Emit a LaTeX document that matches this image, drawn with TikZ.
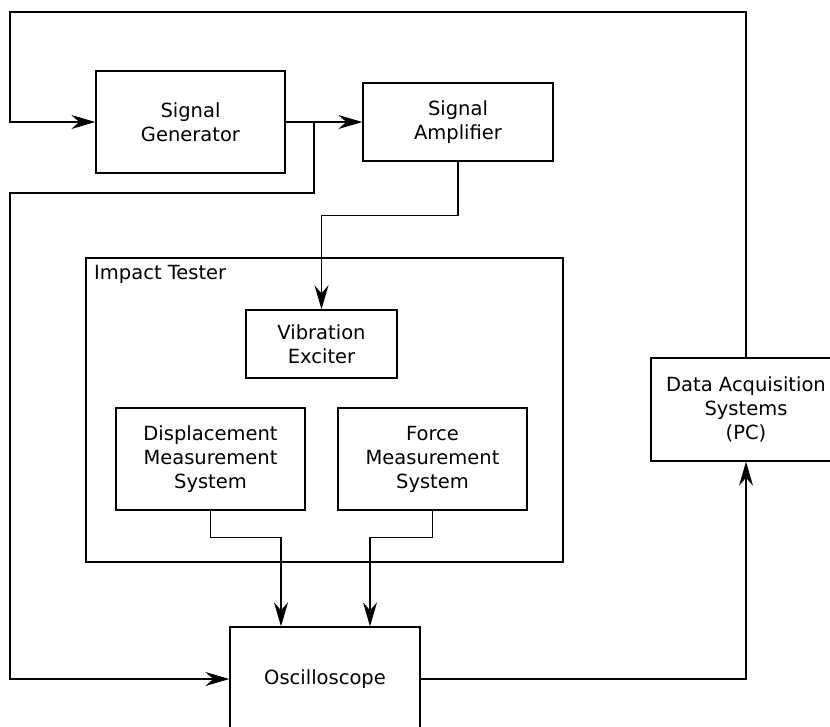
\documentclass[tikz,border=0pt]{standalone}
\usepackage{fontspec}
\setmainfont{DejaVu Sans}
\usetikzlibrary{arrows.meta,calc}
\begin{document}
\begin{tikzpicture}[x=1pt,y=-1pt,
  box/.style={draw,line width=1.4pt,rectangle,align=center,inner sep=0pt,font=\fontsize{19.5}{24}\selectfont},
  conn/.style={line width=1.4pt},
  arr/.style={conn,-{Stealth[length=24pt,width=14pt,inset=8pt]}}]
\useasboundingbox (0,0) rectangle (830,726);
\node[box,minimum width=477pt,minimum height=304pt] (imp) at (324.5,410) {};
\node[anchor=north west,inner sep=0pt,font=\fontsize{19.5}{24}\selectfont] (implbl) at (94,265) {Impact Tester};
\node[box,minimum width=189pt,minimum height=102pt] (sg) at (190.5,122) {Signal\\Generator};
\node[box,minimum width=190pt,minimum height=78pt] (sa) at (458,122) {Signal\\Amplifier};
\node[box,minimum width=151pt,minimum height=68pt] (ve) at (321.5,344) {Vibration\\Exciter};
\node[box,minimum width=189pt,minimum height=102pt] (dm) at (210.5,459) {Displacement\\Measurement\\System};
\node[box,minimum width=189pt,minimum height=102pt] (fm) at (432.5,459) {Force\\Measurement\\System};
\node[box,minimum width=190pt,minimum height=104pt] (osc) at (325,679) {Oscilloscope};
\node[box,minimum width=190pt,minimum height=103pt] (daq) at (746,409.5) {Data Acquisition\\Systems\\(PC)};
\coordinate (tl) at (10,12);
\coordinate (br) at (314,122);
\coordinate (bl) at (10,193);
\draw[arr] (daq.north) |- (tl) |- (sg.west);
\draw[arr] (sg.east) -- (sa.west);
\draw[arr] (br) |- (bl) |- (osc.west);
\draw[arr] (sa.south) -- ++(0,54) -| (ve.north);
\draw[arr] (dm.south) -- ++(0,27) -| ($(osc.north)+(-44,0)$);
\draw[arr] (fm.south) -- ++(0,27) -| ($(osc.north)+(45,0)$);
\draw[arr] (osc.east) -| (daq.south);
\end{tikzpicture}
\end{document}
